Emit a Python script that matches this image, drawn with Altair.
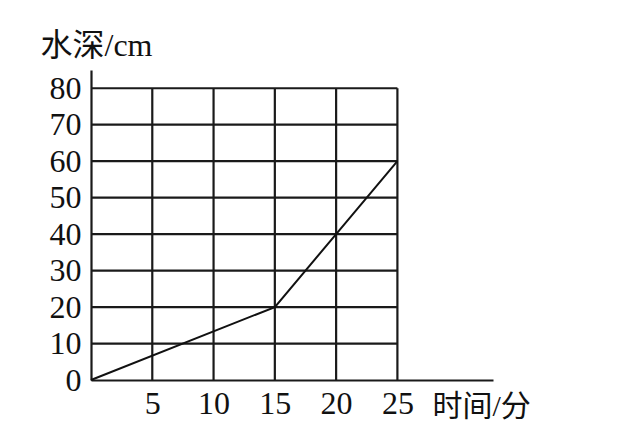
import altair as alt
import pandas as pd

# data line
time_min = [0, 15, 20, 25]
depth_cm = [0, 20, 40, 60]

# grid definition
x_ticks = [5, 10, 15, 20, 25]
y_ticks = [0, 10, 20, 30, 40, 50, 60, 70, 80]
grid_x_max = 25
grid_y_max = 80
x_domain = [0, 32.8]
y_domain = [0, 85]

line_df = pd.DataFrame({"t": time_min, "d": depth_cm})
vgrid = pd.DataFrame({"x": x_ticks, "y0": [0] * len(x_ticks), "y1": [grid_y_max] * len(x_ticks)})
hgrid = pd.DataFrame({"y": y_ticks[1:], "x0": [0] * (len(y_ticks) - 1), "x1": [grid_x_max] * (len(y_ticks) - 1)})

FONT = "Liberation Serif, Noto Sans CJK SC"

xs = alt.Scale(domain=x_domain, nice=False, zero=False)
ys = alt.Scale(domain=y_domain, nice=False, zero=False)

x_axis = alt.Axis(
    values=x_ticks, labelPadding=8,
    title="时间/分", titleFontSize=30,
    titleAlign="left", titleBaseline="alphabetic",
    titleX=341, titleY=35,
)
y_axis = alt.Axis(
    values=y_ticks, labelPadding=10,
    title="水深/cm", titleFontSize=32,
    titleAngle=0, titleAlign="left", titleBaseline="alphabetic",
    titleX=-51, titleY=-15,
)

vrules = alt.Chart(vgrid).mark_rule(color="#1a1a1a", strokeWidth=2.2).encode(
    x=alt.X("x:Q", scale=xs, axis=x_axis),
    y=alt.Y("y0:Q", scale=ys, axis=y_axis),
    y2="y1:Q",
)
hrules = alt.Chart(hgrid).mark_rule(color="#1a1a1a", strokeWidth=2.2).encode(
    y=alt.Y("y:Q", scale=ys, axis=y_axis),
    x=alt.X("x0:Q", scale=xs, axis=x_axis),
    x2="x1:Q",
)
line = alt.Chart(line_df).mark_line(color="#111", strokeWidth=2).encode(
    x=alt.X("t:Q", scale=xs, axis=x_axis),
    y=alt.Y("d:Q", scale=ys, axis=y_axis),
)

chart = alt.layer(vrules, hrules, line).properties(
    width=402, height=310,
    autosize=alt.AutoSizeParams(type="none"),
    padding={"left": 83, "top": 62, "right": 120, "bottom": 50},
    background="white",
).configure_view(stroke=None).configure_axis(
    ticks=False, grid=False, labelFontSize=32, labelFont=FONT, labelColor="#111",
    domainColor="#1a1a1a", domainWidth=2.2, titleFont=FONT, titleFontWeight="normal",
    titleColor="#111", labelFlush=False, labelOverlap=False, labelBound=False,
)

chart.save("out.html", embed_options={"renderer": "svg", "actions": False})
